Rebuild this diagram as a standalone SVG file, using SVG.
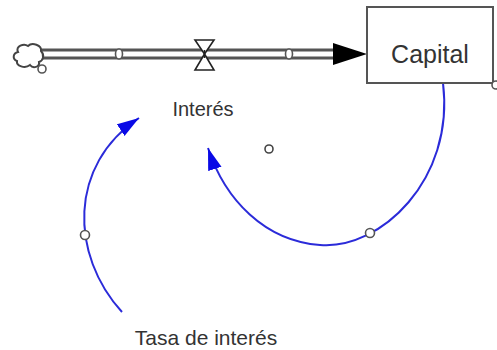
<svg xmlns="http://www.w3.org/2000/svg" width="497" height="350" viewBox="0 0 497 350">
<defs>
<style>
.lbl{font-family:"Liberation Sans",Arial,sans-serif;fill:#333;text-anchor:middle}
.pipe{stroke:#555;stroke-width:3;fill:none}
.dot{fill:#fff;stroke:#555;stroke-width:1.6}
.link{fill:none;stroke:#2b2bd9;stroke-width:2}
</style>
<marker id="ah" markerWidth="24" markerHeight="16" refX="22" refY="7" orient="auto" markerUnits="userSpaceOnUse">
<path d="M0,0 L22,7 L0,14 Z" fill="#0a0ae6"/>
</marker>
</defs>
<rect width="497" height="350" fill="#fff"/>
<g id="connectors">
<path class="link" d="M443,83 C455,180 380,250 320,245 C265,241 225,200 208,148" marker-end="url(#ah)"/>
<path class="link" d="M122,312 C70,255 68,165 139,118" marker-end="url(#ah)"/>
<circle class="dot" cx="370" cy="233" r="4.5"/>
<circle class="dot" cx="85" cy="235" r="4.5"/>
</g>
<g id="flow-pipe">
<line class="pipe" x1="42" y1="50" x2="336" y2="50"/>
<line class="pipe" x1="42" y1="58" x2="336" y2="58"/>
<path d="M333,43 L367,54 L333,65 Z" fill="#000"/>
<ellipse class="dot" cx="119" cy="54" rx="3.5" ry="5"/>
<ellipse class="dot" cx="289" cy="54" rx="3.5" ry="5"/>
</g>
<g id="cloud">
<path d="M18,52 C15,46 24,43 28,46 C32,42 42,45 41,51 C45,55 43,61 39,62 C40,67 33,69 30,65 C25,69 16,66 17,61 C12,59 13,53 18,52 Z" fill="#fff" stroke="#444" stroke-width="2"/>
<circle class="dot" cx="42" cy="69" r="4"/>
</g>
<g id="valve">
<path d="M195,40 L214,40 L204.5,54 L214,70 L195,70 L204.5,54 Z" fill="#fff" stroke="#222" stroke-width="1.6"/>
<line x1="204.5" y1="50" x2="204.5" y2="58" stroke="#222" stroke-width="1.6"/>
</g>
<g id="interes">
<text class="lbl" x="203" y="116" font-size="20">Interés</text>
<circle cx="269" cy="149" r="4" fill="none" stroke="#444" stroke-width="1.6"/>
</g>
<g id="capital">
<rect x="367" y="7" width="126" height="76" fill="#fff" stroke="#555" stroke-width="2"/>
<text class="lbl" x="430" y="63" font-size="25">Capital</text>
<circle class="dot" cx="496" cy="85" r="4"/>
</g>
<g id="tasa">
<text class="lbl" x="206" y="345" font-size="21">Tasa de interés</text>
</g>
</svg>
